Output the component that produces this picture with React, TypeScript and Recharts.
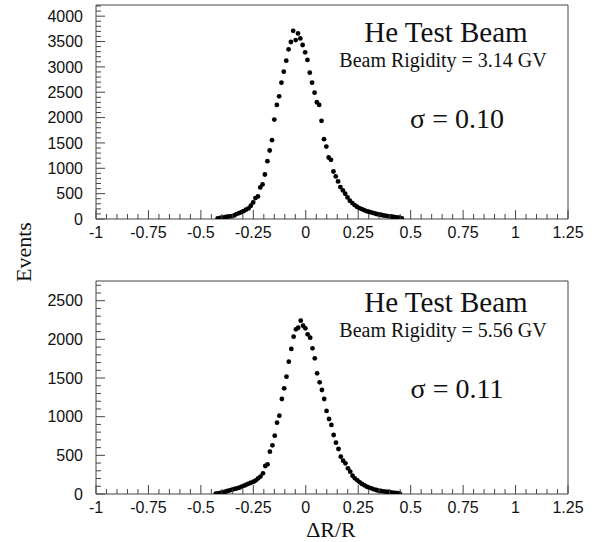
import { ScatterChart, Scatter, XAxis, YAxis, ReferenceArea } from 'recharts';

// top panel: 3.14 GV
const topX = [
  -0.42, -0.408, -0.397, -0.386, -0.375, -0.363, -0.352, -0.341,
  -0.33, -0.318, -0.307, -0.296, -0.285, -0.273, -0.262, -0.251, -0.24, -0.228,
  -0.217, -0.206, -0.195, -0.183, -0.172, -0.161, -0.15, -0.138, -0.127, -0.116,
  -0.105, -0.093, -0.082, -0.071, -0.06, -0.048, -0.037, -0.026, -0.015, -0.003,
  0.008, 0.019, 0.03, 0.042, 0.053, 0.064, 0.075, 0.087, 0.098, 0.109,
  0.12, 0.132, 0.143, 0.154, 0.165, 0.177, 0.188, 0.199, 0.21, 0.222,
  0.233, 0.244, 0.255, 0.267, 0.278, 0.289, 0.3, 0.312, 0.323, 0.334,
  0.345, 0.357, 0.368, 0.379, 0.39, 0.402, 0.413, 0.424, 0.435, 0.447,
  0.458,
];
const topEvents = [
  14, 20, 27, 36, 45, 51, 58, 71,
  97, 117, 137, 157, 183, 209, 261, 327, 412, 445,
  622, 681, 878, 1141, 1351, 1554, 1961, 2250, 2420, 2689,
  2906, 3122, 3346, 3490, 3710, 3529, 3660, 3560, 3431, 3287,
  3136, 2886, 2689, 2492, 2302, 2250, 1935, 1574, 1429, 1213,
  1167, 937, 839, 740, 629, 563, 498, 426, 360, 314,
  275, 242, 216, 196, 176, 157, 143, 130, 117, 104,
  91, 84, 71, 65, 58, 51, 45, 38, 32, 25,
  12,
];

// bottom panel: 5.56 GV
const bottomX = [
  -0.429, -0.418, -0.407, -0.396, -0.384, -0.373, -0.362, -0.351, -0.339, -0.328,
  -0.317, -0.306, -0.294, -0.283, -0.272, -0.261, -0.249, -0.238, -0.227, -0.216,
  -0.204, -0.193, -0.182, -0.171, -0.159, -0.148, -0.137, -0.126, -0.114, -0.103,
  -0.092, -0.081, -0.069, -0.058, -0.047, -0.036, -0.024, -0.013, -0.002, 0.009,
  0.021, 0.032, 0.043, 0.054, 0.066, 0.077, 0.088, 0.099, 0.111, 0.122,
  0.133, 0.144, 0.156, 0.167, 0.178, 0.189, 0.201, 0.212, 0.223, 0.234,
  0.246, 0.257, 0.268, 0.279, 0.291, 0.302, 0.313, 0.324, 0.336, 0.347,
  0.358, 0.369, 0.381, 0.392, 0.403, 0.414, 0.426, 0.437, 0.448,
];
const bottomEvents = [
  4, 8, 13, 22, 30, 39, 48, 56, 65, 74,
  82, 95, 108, 121, 134, 147, 160, 177, 203, 225,
  268, 362, 384, 548, 630, 755, 923, 1013, 1229, 1367,
  1518, 1712, 1876, 2035, 2130, 2150, 2242, 2177, 2143, 2065,
  2022, 1884, 1755, 1561, 1445, 1345, 1229, 1074, 970, 893,
  763, 664, 582, 483, 431, 397, 332, 289, 237, 203,
  177, 151, 130, 112, 95, 82, 74, 61, 52, 43,
  39, 35, 30, 26, 22, 18, 15, 10, 6,
];

const xMajor = [-1, -0.75, -0.5, -0.25, 0, 0.25, 0.5, 0.75, 1, 1.25];
const xMinor = Array.from({ length: 46 }, (_, i) => Math.round((-1 + i * 0.05) * 100) / 100);

const topYMajor = [0, 500, 1000, 1500, 2000, 2500, 3000, 3500, 4000];
const topYMinor = Array.from({ length: 43 }, (_, i) => i * 100);
const bottomYMajor = [0, 500, 1000, 1500, 2000, 2500];
const bottomYMinor = Array.from({ length: 28 }, (_, i) => i * 100);

const AXIS = '#444';
const SANS = '"Liberation Sans", Arial, Helvetica, sans-serif';
const SERIF = '"Liberation Serif", "Times New Roman", serif';

const isMajor = (list: number[], v: number) => list.some((m) => Math.abs(m - v) < 1e-6);

function XTick({ x, y, payload }: any) {
  const v = payload.value;
  const major = isMajor(xMajor, v);
  return (
    <g>
      <line x1={x} x2={x} y1={y} y2={y - (major ? 9 : 5)} stroke={AXIS} strokeWidth={1} />
      {major && (
        <text x={x} y={y + 19} textAnchor="middle" fontSize={16} fontFamily={SANS} fill="#111">
          {String(v)}
        </text>
      )}
    </g>
  );
}

function makeYTick(majors: number[]) {
  return function YTick({ x, y, payload }: any) {
    const v = payload.value;
    const major = isMajor(majors, v);
    return (
      <g>
        <line x1={x} x2={x + (major ? 9 : 5)} y1={y} y2={y} stroke={AXIS} strokeWidth={1} />
        {major && (
          <text x={x - 13} y={y} dy="0.36em" textAnchor="end" fontSize={16} fontFamily={SANS} fill="#111">
            {String(v)}
          </text>
        )}
      </g>
    );
  };
}

const Dot = (p: any) => <circle cx={p.cx} cy={p.cy} r={2.4} fill="#000" />;

function Panel({ xs, ys, yMax, yTicks, yMajor, height, margin }: any) {
  const data = xs.map((x: number, i: number) => ({ x, y: ys[i] }));
  return (
    <ScatterChart width={599} height={height} margin={margin}>
      <XAxis
        type="number"
        dataKey="x"
        domain={[-1, 1.25]}
        ticks={xMinor}
        interval={0}
        height={30}
        axisLine={false}
        tickLine={false}
        tickSize={0}
        tickMargin={0}
        tick={<XTick />}
        allowDataOverflow
      />
      <YAxis
        type="number"
        dataKey="y"
        domain={[0, yMax]}
        ticks={yTicks}
        interval={0}
        width={60}
        axisLine={false}
        tickLine={false}
        tickSize={0}
        tickMargin={0}
        tick={makeYTick(yMajor)}
        allowDataOverflow
      />
      <ReferenceArea x1={-1} x2={1.25} y1={0} y2={yMax} fill="none" stroke={AXIS} strokeWidth={1} />
      <Scatter data={data} shape={Dot} isAnimationActive={false} />
    </ScatterChart>
  );
}

export default function App() {
  return (
    <div style={{ position: 'absolute', left: 0, top: 0, width: 599, height: 542, background: '#fff' }}>
      <div style={{ position: 'absolute', left: 0, top: 0 }}>
        <Panel
          xs={topX}
          ys={topEvents}
          yMax={4220}
          yTicks={topYMinor}
          yMajor={topYMajor}
          height={270}
          margin={{ top: 5, right: 31, bottom: 21, left: 36 }}
        />
      </div>
      <div style={{ position: 'absolute', left: 0, top: 270 }}>
        <Panel
          xs={bottomX}
          ys={bottomEvents}
          yMax={2755}
          yTicks={bottomYMinor}
          yMajor={bottomYMajor}
          height={272}
          margin={{ top: 11, right: 31, bottom: 18, left: 36 }}
        />
      </div>
      <svg
        width={599}
        height={542}
        style={{ position: 'absolute', left: 0, top: 0, pointerEvents: 'none' }}
        fontFamily={SERIF}
        fill="#111"
      >
        <text x={446} y={42} textAnchor="middle" fontSize={29}>He Test Beam</text>
        <text x={443} y={67} textAnchor="middle" fontSize={20}>Beam Rigidity = 3.14 GV</text>
        <text x={457} y={128} textAnchor="middle" fontSize={28}>σ = 0.10</text>
        <text x={446} y={312} textAnchor="middle" fontSize={29}>He Test Beam</text>
        <text x={443} y={337} textAnchor="middle" fontSize={20}>Beam Rigidity = 5.56 GV</text>
        <text x={457} y={398} textAnchor="middle" fontSize={28}>σ = 0.11</text>
        <text x={31} y={252} textAnchor="middle" fontSize={22} transform="rotate(-90 31 252)">Events</text>
        <text x={331} y={537} textAnchor="middle" fontSize={22}>ΔR/R</text>
      </svg>
    </div>
  );
}
